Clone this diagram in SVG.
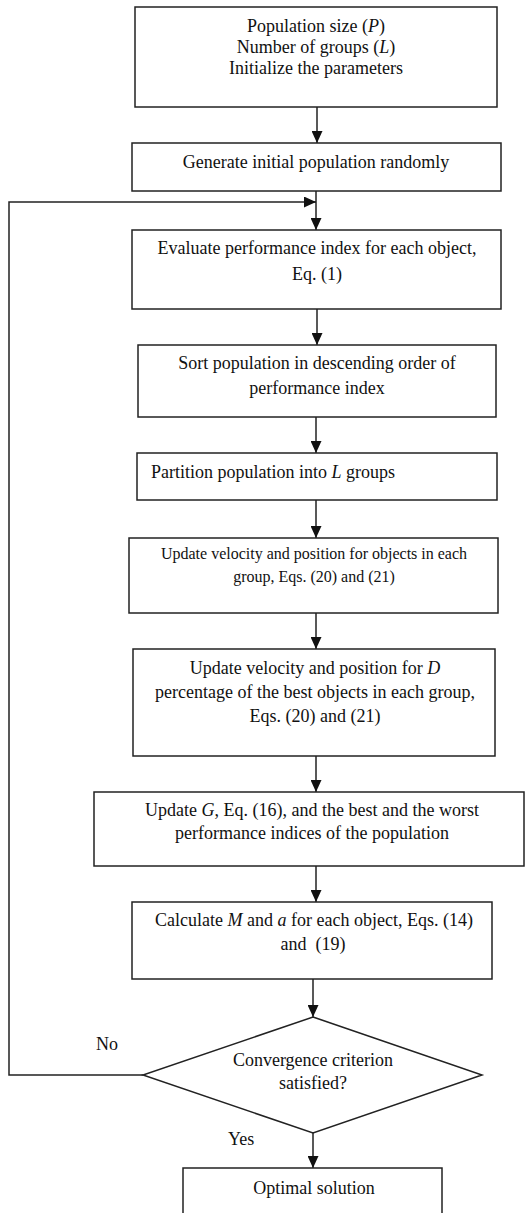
<svg xmlns="http://www.w3.org/2000/svg" width="526" height="1213" viewBox="0 0 526 1213">
<style>
.b{fill:#fff;stroke:#222;stroke-width:1.5}
.t{font-family:"Liberation Serif","Times New Roman",serif;font-size:18px;fill:#111;text-anchor:middle}
.s{font-size:16px}
.l{text-anchor:start}
.c{fill:none;stroke:#222;stroke-width:1.5}
</style>
<defs>
<marker id="ah" markerUnits="userSpaceOnUse" markerWidth="12" markerHeight="11" viewBox="0 0 12 11" refX="12" refY="5.5" orient="auto">
<path d="M0,0 L12,5.5 L0,11 Z" fill="#111"/>
</marker>
</defs>
<rect width="526" height="1213" fill="#fff"/>
<g id="connectors">
<line class="c" x1="317" y1="107" x2="317" y2="143" marker-end="url(#ah)"/>
<line class="c" x1="316" y1="191" x2="316" y2="230" marker-end="url(#ah)"/>
<polyline class="c" points="143,1075 9,1075 9,202 316,202" marker-end="url(#ah)"/>
<line class="c" x1="317" y1="309" x2="317" y2="345" marker-end="url(#ah)"/>
<line class="c" x1="316" y1="417" x2="316" y2="453" marker-end="url(#ah)"/>
<line class="c" x1="316" y1="500" x2="316" y2="538" marker-end="url(#ah)"/>
<line class="c" x1="316" y1="613" x2="316" y2="649" marker-end="url(#ah)"/>
<line class="c" x1="316" y1="756" x2="316" y2="792" marker-end="url(#ah)"/>
<line class="c" x1="316" y1="866" x2="316" y2="902" marker-end="url(#ah)"/>
<line class="c" x1="313" y1="979" x2="313" y2="1017" marker-end="url(#ah)"/>
<line class="c" x1="313" y1="1133" x2="313" y2="1168" marker-end="url(#ah)"/>
<text class="t l" x="96" y="1050">No</text>
<text class="t l" x="228" y="1145">Yes</text>
</g>
<g id="n1">
<rect class="b" x="135" y="7" width="362" height="100"/>
<text class="t" x="316" y="32">Population size (<tspan font-style="italic">P</tspan>)</text>
<text class="t" x="316" y="53">Number of groups (<tspan font-style="italic">L</tspan>)</text>
<text class="t" x="316" y="74">Initialize the parameters</text>
</g>
<g id="n2">
<rect class="b" x="132" y="143" width="369" height="48"/>
<text class="t" x="316" y="168">Generate initial population randomly</text>
</g>
<g id="n3">
<rect class="b" x="132" y="230" width="369" height="79"/>
<text class="t" x="317" y="254">Evaluate performance index for each object,</text>
<text class="t" x="317" y="280">Eq. (1)</text>
</g>
<g id="n4">
<rect class="b" x="138" y="345" width="358" height="72"/>
<text class="t" x="317" y="369">Sort population in descending order of</text>
<text class="t" x="317" y="394">performance index</text>
</g>
<g id="n5">
<rect class="b" x="137" y="453" width="360" height="47"/>
<text class="t l" x="151" y="478">Partition population into <tspan font-style="italic">L</tspan> groups</text>
</g>
<g id="n6">
<rect class="b" x="129" y="538" width="369" height="75"/>
<text class="t s" x="314" y="559">Update velocity and position for objects in each</text>
<text class="t s" x="314" y="582">group, Eqs. (20) and (21)</text>
</g>
<g id="n7">
<rect class="b" x="133" y="649" width="362" height="107"/>
<text class="t" x="315" y="674">Update velocity and position for <tspan font-style="italic">D</tspan></text>
<text class="t" x="315" y="698">percentage of the best objects in each group,</text>
<text class="t" x="315" y="722">Eqs. (20) and (21)</text>
</g>
<g id="n8">
<rect class="b" x="94" y="792" width="430" height="74"/>
<text class="t" x="312" y="816">Update <tspan font-style="italic">G</tspan>, Eq. (16), and the best and the worst</text>
<text class="t" x="312" y="839">performance indices of the population</text>
</g>
<g id="n9">
<rect class="b" x="132" y="902" width="360" height="77"/>
<text class="t" x="314" y="926">Calculate <tspan font-style="italic">M</tspan> and <tspan font-style="italic">a</tspan> for each object, Eqs. (14)</text>
<text class="t" x="313" y="950" xml:space="preserve">and  (19)</text>
</g>
<g id="n10">
<polygon class="b" points="313,1017 482,1075 313,1133 143,1075"/>
<text class="t" x="313" y="1066">Convergence criterion</text>
<text class="t" x="313" y="1089">satisfied?</text>
</g>
<g id="n11">
<rect class="b" x="183" y="1168" width="259" height="60"/>
<text class="t" x="314" y="1194">Optimal solution</text>
</g>
</svg>
